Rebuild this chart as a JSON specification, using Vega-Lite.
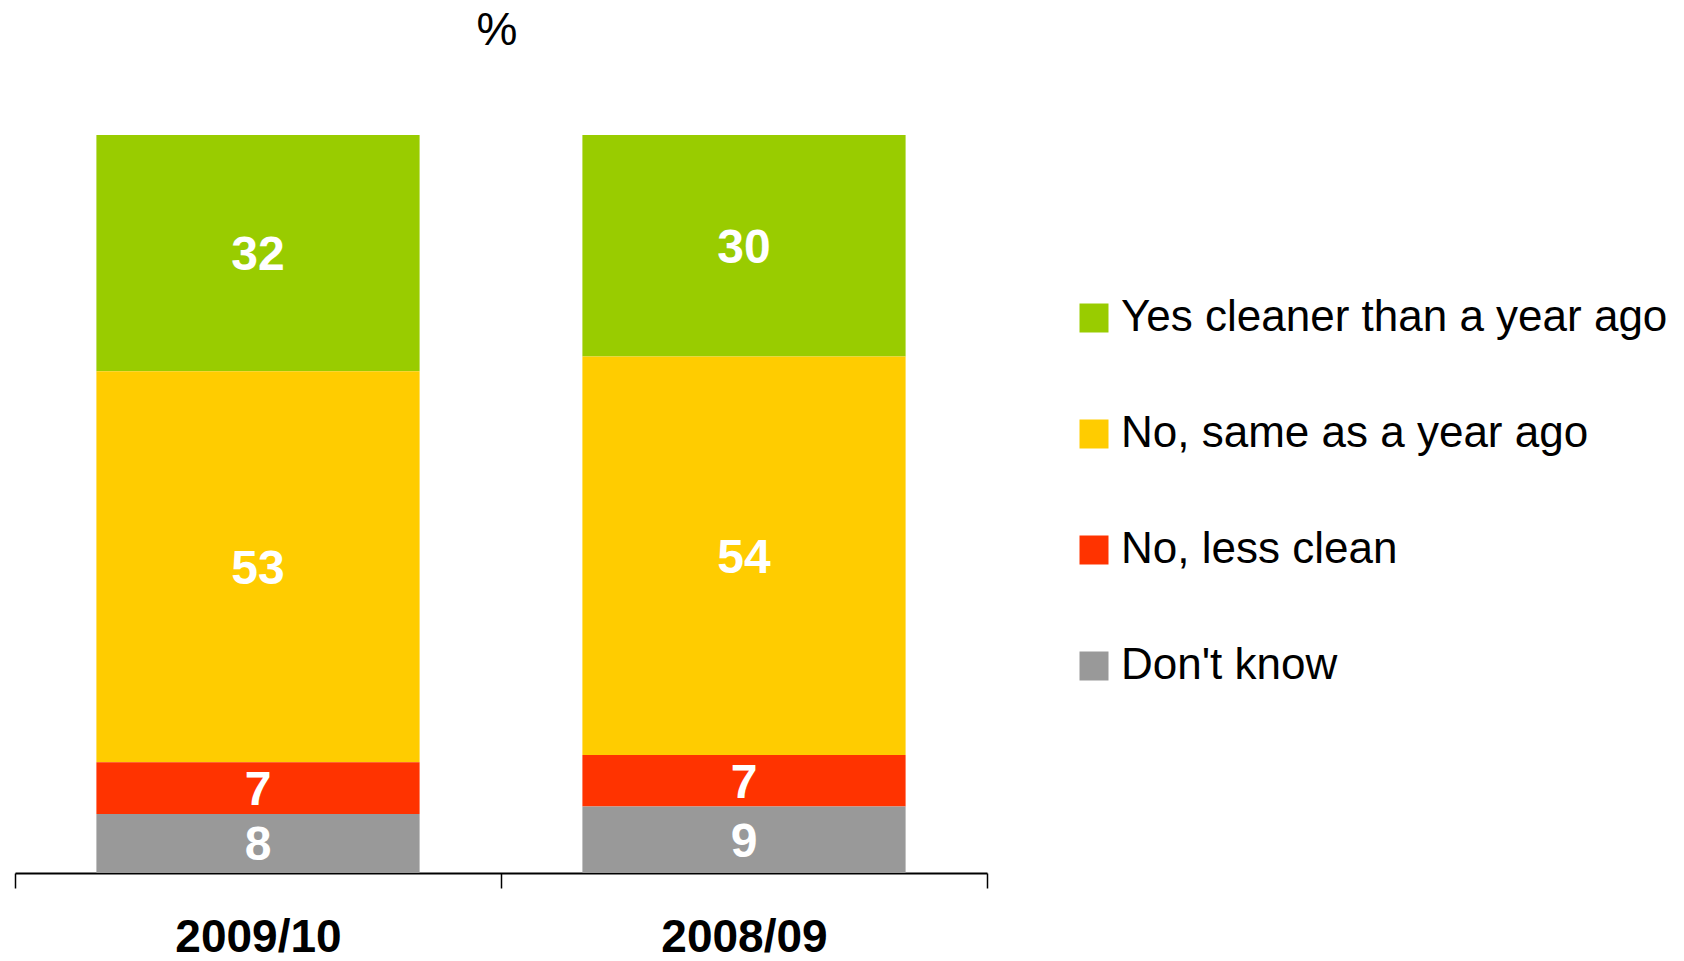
{
  "$schema": "https://vega.github.io/schema/vega-lite/v6.json",
  "width": 972,
  "height": 738,
  "autosize": "none",
  "padding": {"left": 15, "top": 135, "right": 697, "bottom": 88},
  "background": "white",
  "config": {"view": {"stroke": null}, "font": "Liberation Sans"},
  "title": {"text": "%", "fontSize": 46, "font": "Liberation Sans", "fontWeight": "normal", "anchor": "middle", "offset": 80, "dx": -4, "color": "black"},
  "data": {"values": [
    {"year": "2009/10", "answer": "Yes cleaner than a year ago", "value": 32, "pos": 4},
    {"year": "2009/10", "answer": "No, same as a year ago", "value": 53, "pos": 3},
    {"year": "2009/10", "answer": "No, less clean", "value": 7, "pos": 2},
    {"year": "2009/10", "answer": "Don't know", "value": 8, "pos": 1},
    {"year": "2008/09", "answer": "Yes cleaner than a year ago", "value": 30, "pos": 4},
    {"year": "2008/09", "answer": "No, same as a year ago", "value": 54, "pos": 3},
    {"year": "2008/09", "answer": "No, less clean", "value": 7, "pos": 2},
    {"year": "2008/09", "answer": "Don't know", "value": 9, "pos": 1}
  ]},
  "encoding": {
    "x": {
      "field": "year", "type": "nominal", "sort": ["2009/10", "2008/09"],
      "scale": {"paddingInner": 0, "paddingOuter": 0},
      "axis": {
        "title": null, "labelAngle": 0, "labelFont": "Liberation Sans", "labelFontSize": 46,
        "labelFontWeight": "bold", "labelColor": "black", "domainColor": "black", "domainWidth": 2,
        "tickColor": "black", "tickWidth": 1.5, "tickSize": 15, "tickBand": "extent", "labelPadding": 27
      }
    }
  },
  "layer": [
    {
      "mark": {"type": "bar", "width": {"band": 0.665}},
      "encoding": {
        "y": {"field": "value", "type": "quantitative", "stack": "zero", "scale": {"domain": [0, 100]}, "axis": null},
        "order": {"field": "pos", "type": "quantitative"},
        "color": {
          "field": "answer", "type": "nominal",
          "scale": {
            "domain": ["Yes cleaner than a year ago", "No, same as a year ago", "No, less clean", "Don't know"],
            "range": ["#99CC00", "#FFCC00", "#FF3300", "#999999"]
          },
          "legend": {
            "title": null, "orient": "none", "legendX": 1057, "legendY": 161,
            "symbolType": "square", "symbolSize": 841, "symbolStrokeWidth": 0, "symbolOpacity": 1,
            "labelFont": "Liberation Sans", "labelFontSize": 44, "labelColor": "black",
            "rowPadding": 72, "labelOffset": 5, "labelLimit": 0, "padding": 0
          }
        }
      }
    },
    {
      "mark": {"type": "text", "color": "white", "font": "Liberation Sans", "fontSize": 48, "fontWeight": "bold", "baseline": "middle", "align": "center", "dy": 3},
      "encoding": {
        "y": {"field": "value", "type": "quantitative", "stack": "zero", "bandPosition": 0.5},
        "order": {"field": "pos", "type": "quantitative"},
        "detail": {"field": "answer", "type": "nominal"},
        "text": {"field": "value", "type": "quantitative"}
      }
    }
  ]
}
